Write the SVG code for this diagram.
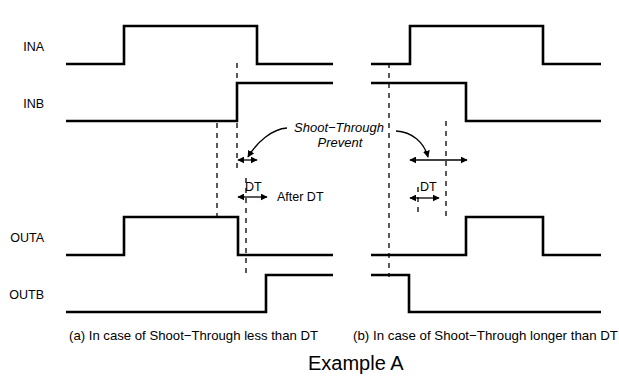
<svg xmlns="http://www.w3.org/2000/svg" width="619" height="381" viewBox="0 0 619 381">
<style>
.sig{fill:none;stroke:#000;stroke-width:2.6;stroke-linejoin:miter}
.dash{fill:none;stroke:#000;stroke-width:1.3;stroke-dasharray:5 5}
.arr{fill:none;stroke:#000;stroke-width:1.3}
.lbl{font-family:"Liberation Sans",Arial,sans-serif;font-size:12.5px;fill:#000}
.it{font-style:italic;font-size:13px}
.cap{font-family:"Liberation Sans",Arial,sans-serif;font-size:13px;fill:#000}
.title{font-family:"Liberation Sans",Arial,sans-serif;font-size:20px;fill:#000}
</style>
<defs>
<marker id="ah" viewBox="0 0 10 10" refX="9" refY="5" markerWidth="7" markerHeight="7" markerUnits="userSpaceOnUse" orient="auto-start-reverse">
<path d="M0,0 L10,5 L0,10 z" fill="#000"/>
</marker>
</defs>
<g id="labels">
<text class="lbl" x="44" y="51" text-anchor="end">INA</text>
<text class="lbl" x="44" y="108" text-anchor="end">INB</text>
<text class="lbl" x="44" y="242" text-anchor="end">OUTA</text>
<text class="lbl" x="44" y="299" text-anchor="end">OUTB</text>
</g>
<g id="signals-a">
<path id="ina-a" class="sig" d="M66,64 H124 V26 H257 V64 H333"/>
<path id="inb-a" class="sig" d="M66,121 H237 V83 H333"/>
<path id="outa-a" class="sig" d="M66,255 H124 V217 H238 V255 H333"/>
<path id="outb-a" class="sig" d="M66,312 H266 V275 H333"/>
</g>
<g id="signals-b">
<path id="ina-b" class="sig" d="M371,64 H410 V26 H543 V64 H601"/>
<path id="inb-b" class="sig" d="M371,83 H466 V121 H601"/>
<path id="outa-b" class="sig" d="M371,255 H466 V217 H543 V255 H601"/>
<path id="outb-b" class="sig" d="M371,275 H409 V312 H601"/>
</g>
<g id="connectors">
<line class="dash" x1="217" y1="123" x2="217" y2="216"/>
<line class="dash" x1="237" y1="63" x2="237" y2="168"/>
<line class="dash" x1="246" y1="178" x2="246" y2="273"/>
<line class="dash" x1="389" y1="63" x2="389" y2="277"/>
<line class="dash" x1="446" y1="121" x2="446" y2="216"/>
<line class="dash" x1="418" y1="187" x2="418" y2="217"/>
<line class="arr" x1="238" y1="160" x2="257" y2="160" marker-start="url(#ah)" marker-end="url(#ah)"/>
<path class="arr" d="M287,128 C272,129 257,142 248,157" marker-end="url(#ah)"/>
<line class="arr" x1="238" y1="197" x2="267" y2="197" marker-start="url(#ah)" marker-end="url(#ah)"/>
<line class="arr" x1="410" y1="160" x2="467" y2="160" marker-start="url(#ah)" marker-end="url(#ah)"/>
<path class="arr" d="M396,131 C412,132 424,142 428,157" marker-end="url(#ah)"/>
<line class="arr" x1="410" y1="198" x2="439" y2="198" marker-start="url(#ah)" marker-end="url(#ah)"/>
</g>
<g id="annotations">
<text class="lbl it" x="384" y="132" text-anchor="end">Shoot−Through</text>
<text class="lbl it" x="340" y="147" text-anchor="middle">Prevent</text>
<text class="lbl" x="245" y="191">DT</text>
<text class="lbl" x="277" y="201">After DT</text>
<text class="lbl" x="420" y="191">DT</text>
<text class="cap" x="69" y="340" textLength="249" lengthAdjust="spacingAndGlyphs">(a) In case of Shoot−Through less than DT</text>
<text class="cap" x="353" y="340" textLength="265" lengthAdjust="spacingAndGlyphs">(b) In case of Shoot−Through longer than DT</text>
<text class="title" x="308" y="370">Example A</text>
</g>
</svg>
